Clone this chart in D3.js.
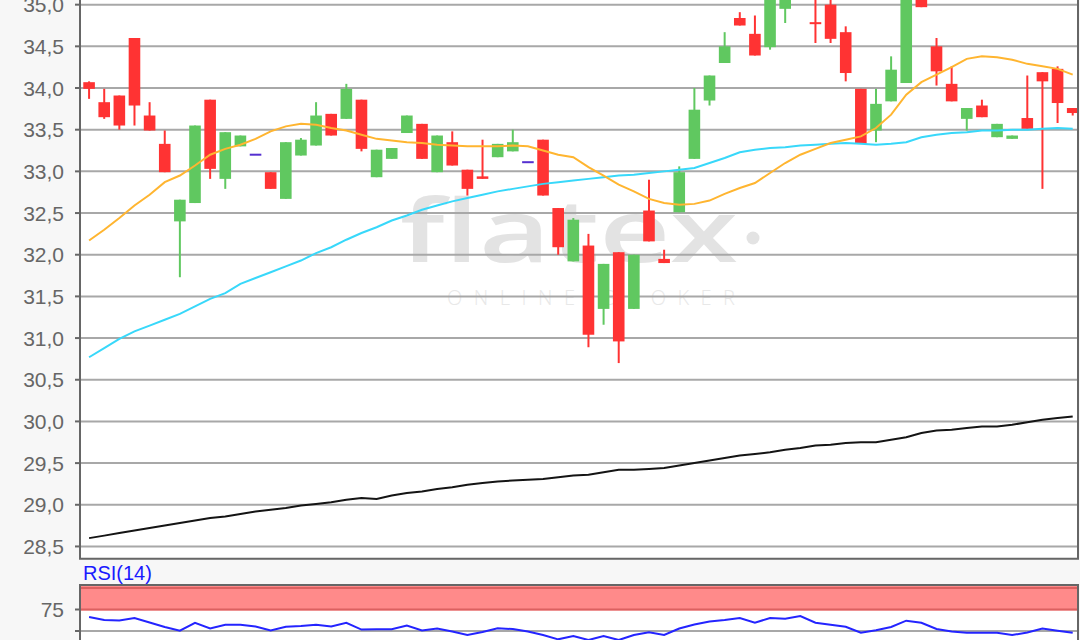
<!DOCTYPE html>
<html>
<head>
<meta charset="utf-8">
<script src="https://cdn.jsdelivr.net/npm/d3@7"></script>
<style>
  html, body { margin: 0; padding: 0; background: #f7f7f7; }
  svg { display: block; }
</style>
</head>
<body>
<svg id="chart" width="1080" height="640"></svg>
<script>
// Daily candles (index only, no dates visible)
const opens  = [34.07,33.83,33.91,34.60,33.67,33.33,32.40,32.62,33.86,32.91,33.30,33.20,32.99,32.67,33.19,33.31,33.69,33.63,33.86,32.93,33.15,33.46,33.57,32.99,33.35,33.02,32.94,33.17,33.24,33.11,33.38,32.56,31.92,32.11,31.35,32.03,31.35,32.53,31.95,32.51,33.15,33.85,34.30,34.84,34.65,34.49,34.95,35.25,34.79,35.00,34.67,33.99,33.49,33.84,34.06,35.15,34.50,34.05,33.63,33.79,33.41,33.39,33.64,34.19,34.23,33.76];
const highs  = [34.08,33.99,33.91,34.60,33.83,33.49,32.66,33.55,33.86,33.47,33.43,33.20,32.99,33.35,33.40,33.83,33.69,34.05,33.86,33.26,33.28,33.67,33.57,33.43,33.48,33.02,33.38,33.33,33.50,33.11,33.38,32.56,32.44,32.25,31.89,32.03,32.00,32.90,32.06,33.06,34.00,34.15,34.67,34.91,34.87,35.10,35.20,35.45,35.10,35.10,34.74,33.99,33.99,34.38,35.20,35.20,34.60,34.26,33.76,33.86,33.57,33.43,34.15,34.19,34.26,33.76];
const lows   = [33.87,33.63,33.50,33.55,33.49,32.99,31.73,32.62,32.91,32.79,33.30,33.20,32.79,32.67,33.19,33.31,33.43,33.63,33.24,32.93,33.15,33.46,33.15,32.99,33.07,32.71,32.91,33.17,33.24,33.11,32.71,32.00,31.92,30.89,31.16,30.70,31.35,32.16,31.90,32.51,33.15,33.79,34.30,34.75,34.39,34.46,34.78,35.12,34.54,34.54,34.08,33.33,33.35,33.84,34.06,34.97,34.03,33.84,33.49,33.65,33.41,33.39,33.51,32.79,33.58,33.67];
const closes = [33.99,33.65,33.55,33.79,33.49,32.99,32.66,33.55,33.03,33.47,33.43,33.20,32.79,33.35,33.38,33.67,33.43,33.99,33.27,33.26,33.28,33.67,33.15,33.43,33.07,32.79,32.91,33.33,33.35,33.11,32.71,32.09,32.42,31.04,31.89,30.96,32.00,32.16,31.90,32.99,33.74,34.15,34.50,34.75,34.39,35.08,35.15,35.35,34.77,34.59,34.18,33.33,33.81,34.22,35.15,34.97,34.20,33.84,33.76,33.65,33.57,33.43,33.51,34.08,33.82,33.70];

// Moving averages, one value per candle
const maShort = [32.17,32.30,32.44,32.59,32.72,32.87,32.95,33.07,33.20,33.27,33.32,33.39,33.48,33.54,33.57,33.56,33.52,33.49,33.44,33.39,33.37,33.35,33.34,33.32,33.31,33.30,33.30,33.30,33.31,33.30,33.25,33.20,33.17,33.05,32.95,32.84,32.76,32.67,32.62,32.60,32.61,32.65,32.73,32.80,32.86,32.98,33.10,33.20,33.27,33.34,33.38,33.42,33.52,33.68,33.92,34.07,34.16,34.25,34.35,34.38,34.37,34.34,34.29,34.26,34.23,34.16];
const maMid   = [30.77,30.88,30.99,31.08,31.15,31.22,31.29,31.38,31.47,31.54,31.65,31.72,31.79,31.86,31.93,32.02,32.09,32.18,32.26,32.33,32.41,32.47,32.54,32.59,32.64,32.68,32.72,32.76,32.79,32.82,32.85,32.87,32.89,32.91,32.93,32.95,32.96,32.98,33.00,33.02,33.04,33.10,33.16,33.23,33.26,33.28,33.29,33.31,33.32,33.33,33.34,33.33,33.32,33.33,33.35,33.41,33.44,33.46,33.47,33.49,33.49,33.50,33.50,33.51,33.52,33.51];
const maLong  = [28.60,28.63,28.66,28.69,28.72,28.75,28.78,28.81,28.84,28.86,28.89,28.92,28.94,28.96,28.99,29.01,29.03,29.06,29.08,29.07,29.11,29.14,29.16,29.19,29.21,29.24,29.26,29.28,29.29,29.30,29.31,29.33,29.35,29.36,29.39,29.42,29.42,29.43,29.44,29.47,29.50,29.53,29.56,29.59,29.61,29.63,29.66,29.68,29.71,29.72,29.74,29.75,29.75,29.78,29.81,29.86,29.89,29.90,29.92,29.94,29.94,29.96,29.99,30.02,30.04,30.06];

const rsi = [66.3,62.8,62.2,65.1,59.9,54.7,50.3,59.6,52.9,57.3,57.3,55.2,50.6,55.0,55.8,57.3,55.2,59.6,51.7,52.0,52.0,56.4,50.6,52.9,49.4,45.3,48.8,53.1,52.3,49.4,45.3,40.3,44.2,39.5,44.2,39.5,45.3,48.5,45.3,52.9,57.6,61.0,62.8,65.1,59.6,65.1,64.3,67.4,59.6,57.3,55.0,48.0,50.8,54.7,62.0,59.6,52.3,49.4,48.0,48.0,48.0,45.3,48.3,52.9,50.3,48.0];

const priceTicks = [28.5,29.0,29.5,30.0,30.5,31.0,31.5,32.0,32.5,33.0,33.5,34.0,34.5,35.0];
const rsiTicks = [50, 75];
const rsiLabels = [75];

const svg = d3.select('#chart');
const left = 80, right = 1078, mainBottom = 558.7, rsiTop = 585;

const locale = d3.formatLocale({ decimal: ',', thousands: '.', grouping: [3], currency: ['', ' €'] });
const fmt = locale.format('.1f');

const x = d3.scaleLinear().domain([-0.6, 65.35]).range([left, right]);
const y = d3.scaleLinear().domain([28.353, 35.056]).range([mainBottom, 0]);
const yr = d3.scaleLinear().domain([0, 100]).range([674, 588]);

svg.append('rect').attr('width', 1080).attr('height', 640).attr('fill', '#f7f7f7');

svg.append('defs').call(defs => {
  defs.append('clipPath').attr('id', 'clipMain')
    .append('rect').attr('x', left).attr('y', 0).attr('width', right - left).attr('height', mainBottom);
  defs.append('clipPath').attr('id', 'clipRsi')
    .append('rect').attr('x', left).attr('y', rsiTop).attr('width', right - left).attr('height', 640 - rsiTop);
});

// ---- main panel ----
svg.append('rect').attr('x', left).attr('y', 0).attr('width', right - left).attr('height', mainBottom)
  .attr('fill', '#fff');

// watermark
const wm = svg.append('g').attr('fill', '#e3e3e3');
wm.append('text').attr('x', 400).attr('y', 262)
  .attr('font-family', '"Open Sans", sans-serif').attr('font-weight', 600)
  .attr('font-size', 86).attr('textLength', 338).attr('lengthAdjust', 'spacingAndGlyphs')
  .text('flatex');
wm.append('circle').attr('cx', 753).attr('cy', 238).attr('r', 6.5);
wm.append('text').attr('x', 447).attr('y', 305)
  .attr('font-family', '"Open Sans", sans-serif').attr('font-weight', 300)
  .attr('font-size', 20).attr('textLength', 288).attr('lengthAdjust', 'spacing')
  .attr('fill', '#e8e8e8')
  .text('ONLINE BROKER');

// grid
svg.append('g').selectAll('line').data(priceTicks).enter().append('line')
  .attr('x1', left).attr('x2', right)
  .attr('y1', d => y(d)).attr('y2', d => y(d))
  .attr('stroke', '#a8a8a8').attr('stroke-width', 2);

// candles
const candles = d3.range(opens.length).map(i => ({
  i, o: opens[i], h: highs[i], l: lows[i], c: closes[i]
}));
const colorOf = d => d.c > d.o ? '#60c860' : (d.c < d.o ? '#ff3333' : '#5530d0');
const bodyW = 11.6;

const cg = svg.append('g').attr('clip-path', 'url(#clipMain)');
cg.selectAll('.wick').data(candles).enter().append('line')
  .attr('class', 'wick')
  .attr('x1', d => x(d.i)).attr('x2', d => x(d.i))
  .attr('y1', d => y(d.h)).attr('y2', d => y(d.l))
  .attr('stroke', colorOf).attr('stroke-width', 2);
cg.selectAll('.body').data(candles).enter().append('rect')
  .attr('class', 'body')
  .attr('x', d => x(d.i) - bodyW / 2)
  .attr('width', bodyW)
  .attr('y', d => d.o === d.c ? y(d.o) - 1 : y(Math.max(d.o, d.c)))
  .attr('height', d => Math.max(2, Math.abs(y(d.o) - y(d.c))))
  .attr('fill', colorOf);

// moving averages
const line = vals => d3.line().x((d, i) => x(i)).y(d => y(d))(vals);
const mg = svg.append('g').attr('clip-path', 'url(#clipMain)').attr('fill', 'none').attr('stroke-width', 2);
mg.append('path').attr('d', line(maLong)).attr('stroke', '#141414');
mg.append('path').attr('d', line(maMid)).attr('stroke', '#38d8fa');
mg.append('path').attr('d', line(maShort)).attr('stroke', '#ffb530');

// frame + axis
const frame = svg.append('g').attr('stroke', '#666').attr('stroke-width', 2).attr('fill', 'none');
frame.append('path').attr('d', `M${left},0V${mainBottom}H${right}V0`);

const labels = svg.append('g').attr('font-family', '"Liberation Sans", Arial, sans-serif')
  .attr('font-size', 21).attr('fill', '#666');
labels.selectAll('text').data(priceTicks).enter().append('text')
  .attr('x', 64).attr('y', d => y(d)).attr('dy', '0.36em').attr('text-anchor', 'end')
  .text(d => fmt(d));
svg.append('g').selectAll('line').data(priceTicks).enter().append('line')
  .attr('x1', left - 5).attr('x2', left).attr('y1', d => y(d)).attr('y2', d => y(d))
  .attr('stroke', '#666').attr('stroke-width', 2);

// ---- RSI panel ----
svg.append('text').attr('x', 83).attr('y', 580)
  .attr('font-family', '"Liberation Sans", Arial, sans-serif').attr('font-size', 20)
  .attr('fill', '#1a1aff').text('RSI(14)');

svg.append('rect').attr('x', left).attr('y', rsiTop).attr('width', right - left).attr('height', 640 - rsiTop)
  .attr('fill', '#fff');
svg.append('rect').attr('x', left).attr('y', rsiTop).attr('width', right - left).attr('height', yr(75) + 1 - rsiTop)
  .attr('fill', '#ff8a8a');
svg.append('g').selectAll('line').data([100, 75]).enter().append('line')
  .attr('x1', left).attr('x2', right).attr('y1', d => yr(d)).attr('y2', d => yr(d))
  .attr('stroke', '#dc6060').attr('stroke-width', 2);
svg.append('g').selectAll('line').data(rsiTicks.filter(d => d !== 75)).enter().append('line')
  .attr('x1', left).attr('x2', right).attr('y1', d => yr(d)).attr('y2', d => yr(d))
  .attr('stroke', '#a8a8a8').attr('stroke-width', 2);

svg.append('path').attr('clip-path', 'url(#clipRsi)')
  .attr('d', d3.line().x((d, i) => x(i)).y(d => yr(d))(rsi))
  .attr('fill', 'none').attr('stroke', '#2424ff').attr('stroke-width', 2);

svg.append('path').attr('d', `M${left},640V${rsiTop}H${right}V640`)
  .attr('stroke', '#666').attr('stroke-width', 2).attr('fill', 'none');

labels.selectAll('.rl').data(rsiLabels).enter().append('text')
  .attr('class', 'rl')
  .attr('x', 64).attr('y', d => yr(d)).attr('dy', '0.36em').attr('text-anchor', 'end')
  .text(d => d);
svg.append('g').selectAll('line').data(rsiTicks).enter().append('line')
  .attr('x1', left - 5).attr('x2', left).attr('y1', d => yr(d)).attr('y2', d => yr(d))
  .attr('stroke', '#666').attr('stroke-width', 2);
</script>
</body>
</html>
